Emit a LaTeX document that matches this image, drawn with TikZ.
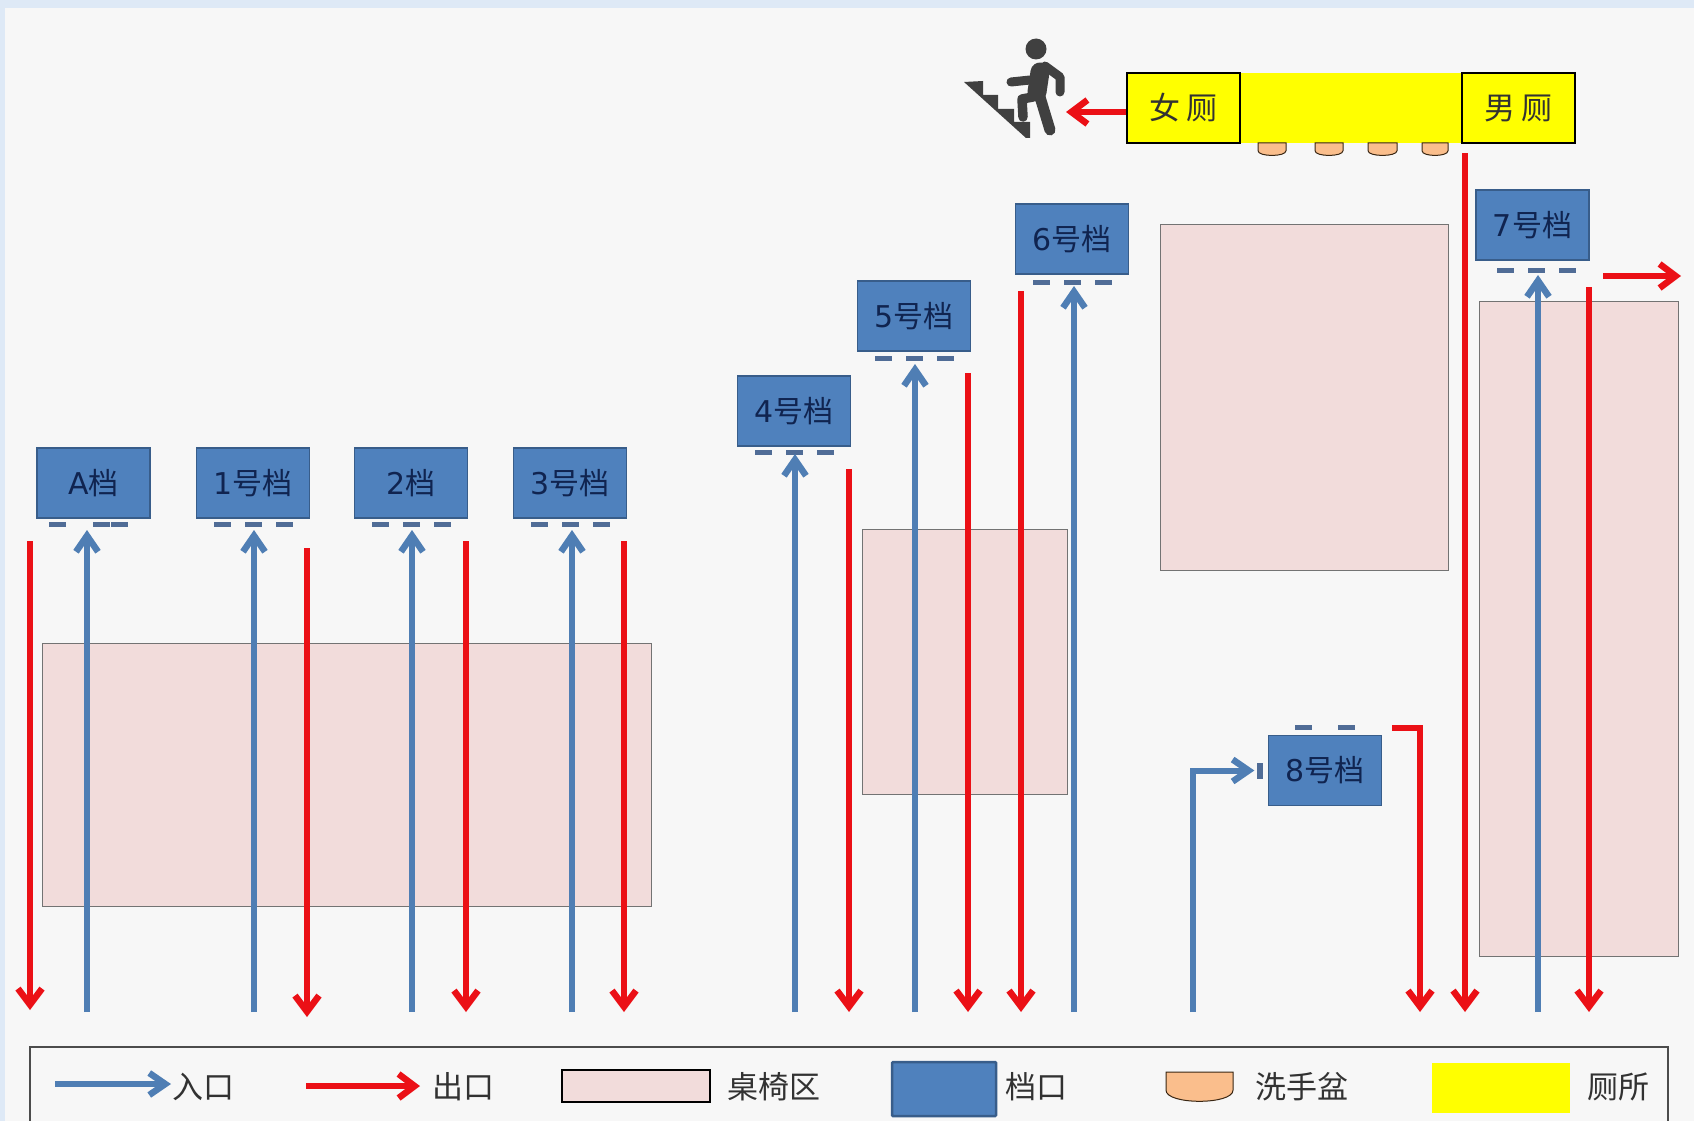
\documentclass[tikz,border=0pt]{standalone}
\usepackage{fontspec}
\setmainfont{Noto Sans CJK SC}
\newfontfamily\numfont{DejaVu Sans}
\usetikzlibrary{arrows.meta,positioning}
\definecolor{hallgrey}{RGB}{247,247,247}
\definecolor{edgeblue}{RGB}{222,233,246}
\definecolor{stallblue}{RGB}{79,129,189}
\definecolor{stallline}{RGB}{56,93,138}
\definecolor{stalltext}{RGB}{16,36,80}
\definecolor{portgrey}{RGB}{80,108,150}
\definecolor{inblue}{RGB}{79,126,180}
\definecolor{outred}{RGB}{235,16,22}
\definecolor{seatpink}{RGB}{242,220,219}
\definecolor{basinorange}{RGB}{250,190,140}
\definecolor{wcyellow}{RGB}{255,255,0}
\definecolor{labelgrey}{RGB}{50,50,50}
\definecolor{figuregrey}{RGB}{64,64,64}
\tikzset{
  stall/.style={draw=stallline,line width=1.5pt,fill=stallblue,minimum width=113pt,minimum height=70pt,inner sep=0pt,
    text=stalltext,font=\fontsize{30}{30}\selectfont},
  port/.style={fill=portgrey,minimum width=17pt,minimum height=5pt,inner sep=0pt},
  seats/.style={draw=black!55,line width=0.8pt,fill=seatpink},
  wc/.style={draw=black,line width=2pt,fill=wcyellow,minimum width=113pt,minimum height=70pt,inner sep=0pt,
    text=labelgrey,font=\fontsize{31}{31}\selectfont},
  inarrow/.style={draw=inblue,line width=6pt,-{Straight Barb[length=16pt,width=22pt,line width=6.5pt]}},
  outarrow/.style={draw=outred,line width=6pt,-{Straight Barb[length=16pt,width=24pt,line width=6.5pt]}},
  keylabel/.style={text=labelgrey,inner sep=0pt,anchor=west,font=\fontsize{31}{31}\selectfont},
  person/.style={draw=figuregrey,line cap=round,line join=round}
}
\newcommand{\washbasin}[4]{\draw[draw=black!70!brown,line width=1pt,fill=basinorange] (#1,#3) -- (#2,#3) -- (#2,#3*0.45+#4*0.55) .. controls (#2,#4) and (#1,#4) .. (#1,#3*0.45+#4*0.55) -- cycle;}
\begin{document}
\begin{tikzpicture}[x=1pt,y=-1pt]
  \useasboundingbox (0,0) rectangle (1694,1121);
  % Background
  \fill[edgeblue] (0,0) rectangle (1694,1121);
  \fill[hallgrey] (5,8) rectangle (1694,1121);

  % Seating areas
  \draw[seats] (42,643) rectangle (651,906);
  \draw[seats] (862,529) rectangle (1067,794);
  \draw[seats] (1160,224) rectangle (1448,570);
  \draw[seats] (1479,301) rectangle (1678,956);

  % Stalls with their ports
  \foreach \name/\x/\y/\gap/\off/\txt in {one/253/483/3/0/{\numfont 1}号档, two/411/483/3/0/{\numfont 2}档, three/570/483/3/0/{\numfont 3}号档,
      four/794/411/3/0/{\numfont 4}号档, five/914/316/4/0/{\numfont 5}号档, six/1072/239/5.5/0/{\numfont 6}号档, seven/1532.5/225/7.5/4/{\numfont 7}号档} {
    \node[stall] (\name) at (\x,\y) {\txt};
    \foreach \dx in {-31,0,31}
      \node[port,below=\gap pt of \name,xshift=\dx pt+\off pt] (\name port\dx) {};
  }
  \node[stall] (a) at (93.5,483) {{\numfont A}档};
  \foreach \dx in {-36,8,26}
    \node[port,below=3pt of a,xshift=\dx pt] (aport\dx) {};
  \node[stall] (eight) at (1325,770.5) {{\numfont 8}号档};
  \node[port,above=4.5pt of eight,xshift=-22pt] (eightportl) {};
  \node[port,above=4.5pt of eight,xshift=21pt] (eightportr) {};
  \node[port,left=5pt of eight,minimum width=6pt,minimum height=16pt] (eightportw) {};

  % Entrance arrows
  \foreach \name/\x/\ytip in {a/87/530, one/254/530, two/412/530, three/572/530, four/795/454, five/915/364, six/1074/286, seven/1538/275} {
    \coordinate (\name in) at (\x,1012);
    \coordinate (\name tip) at (\x,\ytip);
    \draw[inarrow] (\name in) -- (\name tip);
  }
  \coordinate (eight in) at (1193,1012);
  \draw[inarrow] (eight in) |- ([xshift=-2pt]eightportw.west);

  % Exit arrows
  \foreach \name/\x/\ytop/\ytip in {a/30/541/1010, one/307/548/1017, two/466/541/1012, three/624/541/1012, four/849/469/1012,
      five/968/373/1012, six/1021/291/1012, wc/1465/153/1012, seven/1589/287/1012} {
    \coordinate (\name out) at (\x,\ytop);
    \coordinate (\name end) at (\x,\ytip);
    \draw[outarrow] (\name out) -- (\name end);
  }
  \coordinate (eight out) at (1392,728);
  \coordinate (eight end) at (1420,1012);
  \draw[outarrow] (eight out) -| (eight end);
  \coordinate (seven side) at (1603,276);
  \coordinate (seven far) at (1681,276);
  \draw[outarrow] (seven side) -- (seven far);

  % Toilets and wash basins
  \fill[wcyellow] (1240,73) rectangle (1462,143);
  \node[wc] (women) at (1183.5,108) {女 厕};
  \node[wc] (men) at (1518.5,108) {男 厕};
  \washbasin{1258}{1286}{143}{157}
  \washbasin{1315}{1343}{143}{157}
  \washbasin{1368}{1397}{143}{157}
  \washbasin{1422}{1448}{143}{157}
  \coordinate (stairs) at (1066,112);
  \draw[outarrow] (stairs -| women.west) -- (stairs);

  % Stairs and figure
  \fill[figuregrey] (964,82) -- (983,81) -- (983,95) -- (998,95) -- (998,109) -- (1014,109) -- (1014,122) -- (1030,122) -- (1030,138) -- (1026,138) -- cycle;
  \fill[figuregrey] (1036,49) circle (10.5);
  \draw[person,line width=19pt] (1040,72) -- (1037,92);
  \draw[person,line width=9pt] (1045,66) -- (1060,77) -- (1060,92);
  \draw[person,line width=9pt] (1030,80) -- (1011,82);
  \draw[person,line width=9.5pt] (1033,97) -- (1022,99) -- (1023,117);
  \draw[person,line width=11pt] (1040,97) -- (1050,130);

  % Legend
  \draw[black!70,line width=1.5pt] (30,1121) -- (30,1047) -- (1668,1047) -- (1668,1121);
  \coordinate (keyin) at (55,1084);
  \coordinate (keyintip) at (171,1084);
  \draw[inarrow] (keyin) -- (keyintip);
  \node[keylabel] (keyintext) at (172,1087) {入口};
  \coordinate (keyout) at (306,1086);
  \coordinate (keyouttip) at (420,1086);
  \draw[outarrow] (keyout) -- (keyouttip);
  \node[keylabel] (keyouttext) at (432,1087) {出口};
  \draw[seats,draw=black,line width=1.5pt] (562,1070) rectangle (710,1102);
  \node[keylabel] (keyseatstext) at (727,1087) {桌椅区};
  \draw[draw=stallline,line width=2.5pt,fill=stallblue,rounded corners=1pt] (892,1062) rectangle (996,1116);
  \node[keylabel] (keystalltext) at (1005,1087) {档口};
  \washbasin{1166}{1233}{1072}{1105}
  \node[keylabel] (keybasintext) at (1255,1087) {洗手盆};
  \fill[wcyellow] (1431.5,1063) rectangle (1570,1113);
  \node[keylabel] (keywctext) at (1587,1087) {厕所};
\end{tikzpicture}
\end{document}
